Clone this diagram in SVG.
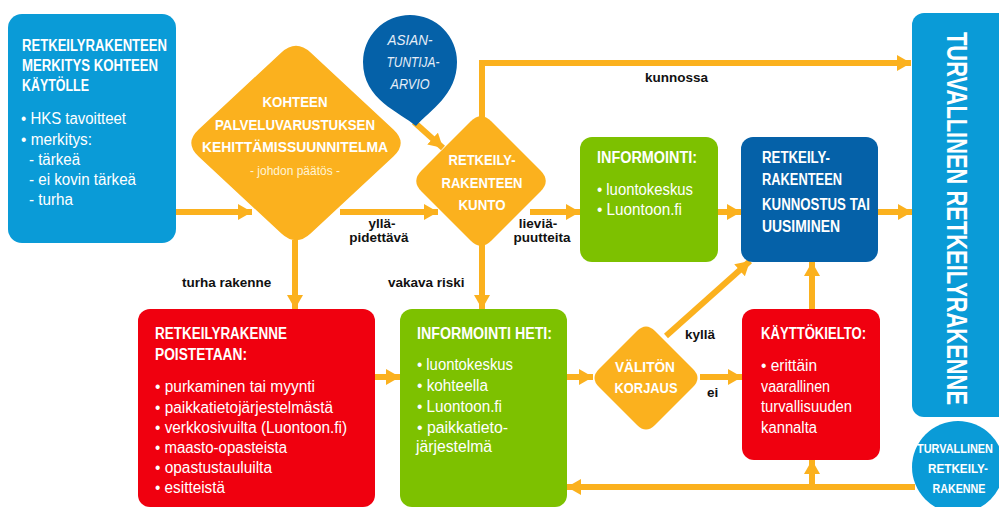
<svg xmlns="http://www.w3.org/2000/svg" width="999" height="507" viewBox="0 0 999 507">
<style>
.h{font-family:'Liberation Sans',sans-serif;font-weight:bold;font-size:16px;fill:#fff}
.p{font-family:'Liberation Sans',sans-serif;font-size:16px;fill:#fff}
.d{font-family:'Liberation Sans',sans-serif;font-weight:bold;font-size:15px;fill:#fff;text-anchor:middle}
.a{font-family:'Liberation Sans',sans-serif;font-style:italic;font-size:15px;fill:#e6eef8;text-anchor:middle}
.s{font-family:'Liberation Sans',sans-serif;font-weight:bold;font-size:13px;fill:#fff;text-anchor:middle}
.l{font-family:'Liberation Sans',sans-serif;font-weight:bold;font-size:13.5px;fill:#111}
.c{stroke:#fbb11e;stroke-width:6;fill:none}
.lb{fill:#0a9bd7}.db{fill:#0561a8}.or{fill:#fbb11e}.gr{fill:#7dc100}.rd{fill:#f0000f}
</style>
<defs>
<marker id="ah" markerUnits="userSpaceOnUse" markerWidth="14" markerHeight="16" refX="14" refY="8" orient="auto">
<path d="M0,0 L14,8 L0,16 Z" fill="#fbb11e"/>
</marker>
</defs>
<g id="connectors">
<line class="c" x1="176" y1="212" x2="252" y2="212" marker-end="url(#ah)"/>
<line class="c" x1="340" y1="212" x2="438" y2="212" marker-end="url(#ah)"/>
<line class="c" x1="295" y1="240" x2="295" y2="309" marker-end="url(#ah)"/>
<line class="c" x1="482" y1="240" x2="482" y2="309" marker-end="url(#ah)"/>
<path class="c" d="M482,118 V63 H911" marker-end="url(#ah)"/>
<line class="c" x1="530" y1="212" x2="580" y2="212" marker-end="url(#ah)"/>
<line class="c" x1="718" y1="212" x2="741" y2="212" marker-end="url(#ah)"/>
<line class="c" x1="878" y1="212" x2="912" y2="212" marker-end="url(#ah)"/>
<line class="c" x1="414" y1="122" x2="443" y2="148" marker-end="url(#ah)"/>
<line class="c" x1="375" y1="377" x2="400" y2="377" marker-end="url(#ah)"/>
<line class="c" x1="567" y1="377" x2="593" y2="377" marker-end="url(#ah)"/>
<line class="c" x1="700" y1="377" x2="742" y2="377" marker-end="url(#ah)"/>
<line class="c" x1="666" y1="336" x2="750" y2="261" marker-end="url(#ah)"/>
<line class="c" x1="812" y1="309" x2="812" y2="262" marker-end="url(#ah)"/>
<line class="c" x1="915" y1="487" x2="567" y2="487" marker-end="url(#ah)"/>
<line class="c" x1="812" y1="487" x2="812" y2="460" marker-end="url(#ah)"/>
<text class="l" x="182" y="287">turha rakenne</text>
<text class="l" x="388" y="287">vakava riski</text>
<text class="l" x="382" y="228" text-anchor="middle">yllä-</text>
<text class="l" x="379" y="242" text-anchor="middle">pidettävä</text>
<text class="l" x="538" y="228" text-anchor="middle">lieviä-</text>
<text class="l" x="542" y="242" text-anchor="middle">puutteita</text>
<text class="l" x="645" y="82">kunnossa</text>
<text class="l" x="685" y="339">kyllä</text>
<text class="l" x="707" y="397">ei</text>
</g>
<g id="merkitys">
<rect class="lb" x="8" y="14" width="168" height="229" rx="14"/>
<text class="h" x="22" y="51" textLength="145" lengthAdjust="spacingAndGlyphs">RETKEILYRAKENTEEN</text>
<text class="h" x="22" y="71" textLength="136" lengthAdjust="spacingAndGlyphs">MERKITYS KOHTEEN</text>
<text class="h" x="22" y="91" textLength="67" lengthAdjust="spacingAndGlyphs">KÄYTÖLLE</text>
<text class="p" x="21" y="124" textLength="105" lengthAdjust="spacingAndGlyphs">• HKS tavoitteet</text>
<text class="p" x="21" y="145" textLength="71" lengthAdjust="spacingAndGlyphs">• merkitys:</text>
<text class="p" x="29" y="165" textLength="51" lengthAdjust="spacingAndGlyphs">- tärkeä</text>
<text class="p" x="29" y="185" textLength="107" lengthAdjust="spacingAndGlyphs">- ei kovin tärkeä</text>
<text class="p" x="29" y="205" textLength="44" lengthAdjust="spacingAndGlyphs">- turha</text>
</g>
<g id="suunnitelma">
<path class="or" d="M310.6,52.5 L393.4,129.5 Q408,143 393.4,156.5 L310.6,233.5 Q296,247 281.4,233.5 L198.6,156.5 Q184,143 198.6,129.5 L281.4,52.5 Q296,39 310.6,52.5 Z"/>
<text class="d" x="295" y="107" textLength="65" lengthAdjust="spacingAndGlyphs">KOHTEEN</text>
<text class="d" x="295" y="130" textLength="160" lengthAdjust="spacingAndGlyphs">PALVELUVARUSTUKSEN</text>
<text class="d" x="295" y="152" textLength="186" lengthAdjust="spacingAndGlyphs">KEHITTÄMISSUUNNITELMA</text>
<text x="295" y="175" text-anchor="middle" textLength="90" lengthAdjust="spacingAndGlyphs" style="font-family:'Liberation Sans',sans-serif;font-size:13px;fill:#fff4d6">- johdon päätös -</text>
</g>
<g id="asiantuntija">
<path class="db" d="M416,126 C400,112 363,100 363,62 A47,47 0 1 1 457,62 C457,95 430,110 416,126 Z"/>
<text class="a" x="410" y="45" textLength="45" lengthAdjust="spacingAndGlyphs">ASIAN-</text>
<text class="a" x="413" y="67" textLength="53" lengthAdjust="spacingAndGlyphs">TUNTIJA-</text>
<text class="a" x="410" y="89" textLength="39" lengthAdjust="spacingAndGlyphs">ARVIO</text>
</g>
<g id="kunto">
<path class="or" d="M491.5,121.5 L540.5,170.5 Q551,181 540.5,191.5 L491.5,240.5 Q481,251 470.5,240.5 L421.5,191.5 Q411,181 421.5,170.5 L470.5,121.5 Q481,111 491.5,121.5 Z"/>
<text class="d" x="482" y="165" textLength="67" lengthAdjust="spacingAndGlyphs">RETKEILY-</text>
<text class="d" x="482" y="188" textLength="81" lengthAdjust="spacingAndGlyphs">RAKENTEEN</text>
<text class="d" x="482" y="210" textLength="47" lengthAdjust="spacingAndGlyphs">KUNTO</text>
</g>
<g id="informointi">
<rect class="gr" x="580" y="137" width="138" height="125" rx="12"/>
<text class="h" x="597" y="163" textLength="100" lengthAdjust="spacingAndGlyphs">INFORMOINTI:</text>
<text class="p" x="597" y="195" textLength="96" lengthAdjust="spacingAndGlyphs">• luontokeskus</text>
<text class="p" x="597" y="215" textLength="85" lengthAdjust="spacingAndGlyphs">• Luontoon.fi</text>
</g>
<g id="kunnostus">
<rect class="db" x="741" y="137" width="137" height="125" rx="12"/>
<text class="h" x="762" y="163" textLength="68" lengthAdjust="spacingAndGlyphs">RETKEILY-</text>
<text class="h" x="762" y="185" textLength="80" lengthAdjust="spacingAndGlyphs">RAKENTEEN</text>
<text class="h" x="762" y="210" textLength="108" lengthAdjust="spacingAndGlyphs">KUNNOSTUS TAI</text>
<text class="h" x="762" y="232" textLength="78" lengthAdjust="spacingAndGlyphs">UUSIMINEN</text>
</g>
<g id="turvallinen">
<rect class="lb" x="912" y="13" width="100" height="404" rx="12"/>
<text transform="translate(947,32) rotate(90)" x="0" y="0" textLength="373" lengthAdjust="spacingAndGlyphs" style="font-family:'Liberation Sans',sans-serif;font-weight:bold;font-size:29px;fill:#fff">TURVALLINEN RETKEILYRAKENNE</text>
</g>
<g id="poistetaan">
<rect class="rd" x="138" y="309" width="237" height="198" rx="12"/>
<text class="h" x="155" y="339" textLength="132" lengthAdjust="spacingAndGlyphs">RETKEILYRAKENNE</text>
<text class="h" x="155" y="360" textLength="92" lengthAdjust="spacingAndGlyphs">POISTETAAN:</text>
<text class="p" x="155" y="392" textLength="160" lengthAdjust="spacingAndGlyphs">• purkaminen tai myynti</text>
<text class="p" x="155" y="413" textLength="178" lengthAdjust="spacingAndGlyphs">• paikkatietojärjestelmästä</text>
<text class="p" x="155" y="433" textLength="192" lengthAdjust="spacingAndGlyphs">• verkkosivuilta (Luontoon.fi)</text>
<text class="p" x="155" y="453" textLength="132" lengthAdjust="spacingAndGlyphs">• maasto-opasteista</text>
<text class="p" x="155" y="473" textLength="117" lengthAdjust="spacingAndGlyphs">• opastustauluilta</text>
<text class="p" x="155" y="493" textLength="70" lengthAdjust="spacingAndGlyphs">• esitteistä</text>
</g>
<g id="informointi-heti">
<rect class="gr" x="400" y="309" width="167" height="198" rx="12"/>
<text class="h" x="417" y="339" textLength="135" lengthAdjust="spacingAndGlyphs">INFORMOINTI HETI:</text>
<text class="p" x="417" y="370" textLength="96" lengthAdjust="spacingAndGlyphs">• luontokeskus</text>
<text class="p" x="417" y="391" textLength="71" lengthAdjust="spacingAndGlyphs">• kohteella</text>
<text class="p" x="417" y="412" textLength="85" lengthAdjust="spacingAndGlyphs">• Luontoon.fi</text>
<text class="p" x="417" y="433" textLength="91" lengthAdjust="spacingAndGlyphs">• paikkatieto-</text>
<text class="p" x="416" y="452" textLength="76" lengthAdjust="spacingAndGlyphs">järjestelmä</text>
</g>
<g id="korjaus">
<path class="or" d="M655,331 L693,369 Q702,378 693,387 L655,425 Q646,434 637,425 L599,387 Q590,378 599,369 L637,331 Q646,322 655,331 Z"/>
<text class="d" x="645" y="372" textLength="60" lengthAdjust="spacingAndGlyphs">VÄLITÖN</text>
<text class="d" x="646" y="393" textLength="63" lengthAdjust="spacingAndGlyphs">KORJAUS</text>
</g>
<g id="kayttokielto">
<rect class="rd" x="742" y="309" width="138" height="151" rx="12"/>
<text class="h" x="761" y="339" textLength="105" lengthAdjust="spacingAndGlyphs">KÄYTTÖKIELTO:</text>
<text class="p" x="761" y="371" textLength="56" lengthAdjust="spacingAndGlyphs">• erittäin</text>
<text class="p" x="761" y="392" textLength="69" lengthAdjust="spacingAndGlyphs">vaarallinen</text>
<text class="p" x="761" y="412" textLength="91" lengthAdjust="spacingAndGlyphs">turvallisuuden</text>
<text class="p" x="761" y="433" textLength="56" lengthAdjust="spacingAndGlyphs">kannalta</text>
</g>
<g id="turvallinen-ympyra">
<circle class="lb" cx="958" cy="467" r="46"/>
<text class="s" x="955" y="453" textLength="76" lengthAdjust="spacingAndGlyphs">TURVALLINEN</text>
<text class="s" x="958" y="473" textLength="60" lengthAdjust="spacingAndGlyphs">RETKEILY-</text>
<text class="s" x="959" y="493" textLength="53" lengthAdjust="spacingAndGlyphs">RAKENNE</text>
</g>
</svg>
